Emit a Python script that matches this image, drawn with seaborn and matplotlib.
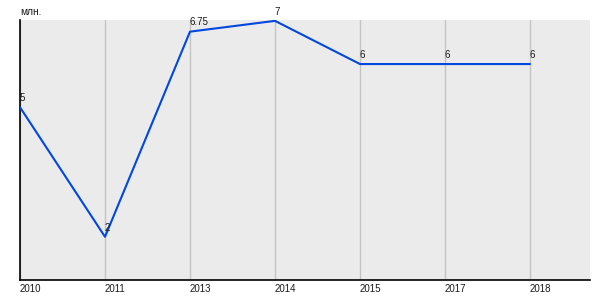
import matplotlib
matplotlib.use("Agg")
import matplotlib.pyplot as plt
import seaborn as sns
import pandas as pd

years = ["2010", "2011", "2013", "2014", "2015", "2017", "2018"]
values = [5, 2, 6.75, 7, 6, 6, 6]
value_labels = ["5", "2", "6.75", "7", "6", "6", "6"]
unit_label = "млн."

sns.set_theme(style="white")
plt.rcParams['font.family'] = ['Liberation Sans', 'DejaVu Sans']

df = pd.DataFrame({"year": years, "value": values})

fig = plt.figure(figsize=(6, 3), dpi=100)
ax = fig.add_axes([20/600, 20/300, 570/600, 260/300])
ax.set_facecolor("#EBEBEB")

pos = list(range(len(years)))
for p in pos:
    ax.axvline(p, color="#C4C4C4", lw=1, zorder=0)

sns.lineplot(x=pos, y=df["value"], ax=ax, color="#0047E0", lw=1.5, zorder=3)

for p, v, lab in zip(pos, values, value_labels):
    ax.annotate(lab, (p, v), xytext=(-0.5, 3), textcoords="offset points",
                ha="left", va="bottom", fontsize=7, color="#1a1a1a")

ax.set_xlim(0, 6.706)
ax.set_ylim(1.0, 7.02)
ax.set_xticks(pos)
ax.set_xticklabels(years, fontsize=7, color="#1a1a1a", ha="left")
ax.set_yticks([])
ax.tick_params(axis="x", length=0, pad=3)
ax.set_xlabel("")
ax.set_ylabel("")
for s in ["top", "right"]:
    ax.spines[s].set_visible(False)
for s in ["left", "bottom"]:
    ax.spines[s].set_visible(True)
    ax.spines[s].set_color("black")
    ax.spines[s].set_linewidth(1.2)

fig.text(20/600, 1 - 12/300, unit_label, fontsize=7.3, color="#1a1a1a", ha="left", va="center")

fig.savefig("out.png", dpi=100, facecolor="white")
